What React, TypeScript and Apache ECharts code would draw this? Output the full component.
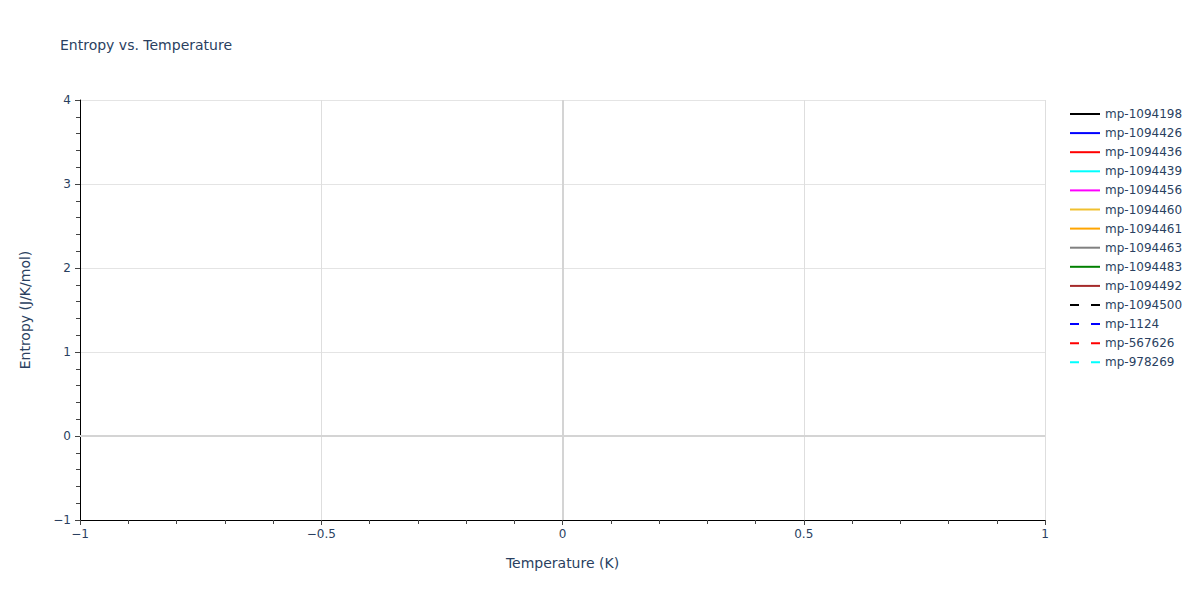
import { useEffect, useRef } from 'react'
import * as echarts from 'echarts'

const seriesNames = [
  'mp-1094198', 'mp-1094426', 'mp-1094436', 'mp-1094439', 'mp-1094456',
  'mp-1094460', 'mp-1094461', 'mp-1094463', 'mp-1094483', 'mp-1094492',
  'mp-1094500', 'mp-1124', 'mp-567626', 'mp-978269',
]
const seriesColors = [
  '#000000', '#0000ff', '#ff0000', '#00ffff', '#ff00ff',
  '#f0c030', '#ffa500', '#808080', '#008000', '#a52a2a',
  '#000000', '#0000ff', '#ff0000', '#00ffff',
]
const seriesDashed = [
  false, false, false, false, false, false, false, false, false, false,
  true, true, true, true,
]
// no temperature points in the source: every series is empty
const seriesData: number[][][] = seriesNames.map(() => [])

const FONT = 'DejaVu Sans, Verdana, sans-serif'
const TEXT = '#2a3f5f'
const minus = (v: number) => String(v).replace('-', '\u2212')

export default function App() {
  const ref = useRef<HTMLDivElement>(null)

  useEffect(() => {
    if (!ref.current) {
      return
    }
    const chart = echarts.init(ref.current, undefined, { renderer: 'svg' })

    const series: any[] = seriesNames.map((name, i) => ({
      name,
      type: 'line',
      data: seriesData[i],
      symbol: 'none',
      color: seriesColors[i],
      lineStyle: { color: seriesColors[i], width: 2, type: seriesDashed[i] ? [9, 12] : 'solid' },
    }))
    // zero lines
    series.push({
      name: 'zero',
      type: 'line',
      data: [],
      symbol: 'none',
      markLine: {
        silent: true,
        symbol: 'none',
        label: { show: false },
        lineStyle: { color: '#d4d4d4', width: 2, type: 'solid' },
        data: [{ xAxis: 0 }, { yAxis: 0 }],
      },
    })

    chart.setOption({
      animation: false,
      backgroundColor: '#fff',
      textStyle: { fontFamily: FONT },
      title: {
        text: 'Entropy vs. Temperature',
        left: 55,
        top: 33,
        textStyle: { fontFamily: FONT, fontSize: 14, fontWeight: 'normal', color: TEXT },
      },
      legend: {
        data: seriesNames.map((name) => ({ name })),
        orient: 'vertical',
        left: 1069,
        top: 108,
        padding: 0,
        itemWidth: 30,
        itemHeight: 14,
        itemGap: 7.1,
        itemStyle: { opacity: 0 },
        textStyle: { fontFamily: FONT, fontSize: 12, color: TEXT },
      },
      grid: { left: 80, right: 155, top: 100, bottom: 80 },
      xAxis: {
        type: 'value',
        min: -1,
        max: 1,
        interval: 0.5,
        name: 'Temperature (K)',
        nameLocation: 'middle',
        nameGap: 36,
        nameTextStyle: { fontFamily: FONT, fontSize: 14, color: TEXT },
        axisLine: { show: true, onZero: false, lineStyle: { color: '#000', width: 1 } },
        axisTick: { show: true, length: 5, lineStyle: { color: '#444' } },
        minorTick: { show: true, splitNumber: 5, length: 4, lineStyle: { color: '#444' } },
        axisLabel: { fontFamily: FONT, fontSize: 12, color: TEXT, margin: 8, formatter: minus },
        splitLine: { show: true, lineStyle: { color: '#dedede', width: 1 } },
      },
      yAxis: {
        type: 'value',
        min: -1,
        max: 4,
        interval: 1,
        name: 'Entropy (J/K/mol)',
        nameLocation: 'middle',
        nameGap: 48,
        nameTextStyle: { fontFamily: FONT, fontSize: 14, color: TEXT },
        axisLine: { show: true, onZero: false, lineStyle: { color: '#000', width: 1 } },
        axisTick: { show: true, length: 5, lineStyle: { color: '#444' } },
        minorTick: { show: true, splitNumber: 5, length: 4, lineStyle: { color: '#444' } },
        axisLabel: { fontFamily: FONT, fontSize: 12, color: TEXT, margin: 9, formatter: minus },
        splitLine: { show: true, lineStyle: { color: '#e4e4e4', width: 1 } },
      },
      series,
    })

    return () => {
      chart.dispose()
    }
  }, [])

  return (
    <div
      ref={ref}
      style={{ position: 'fixed', left: 0, top: 0, width: 1200, height: 600 }}
    />
  )
}
